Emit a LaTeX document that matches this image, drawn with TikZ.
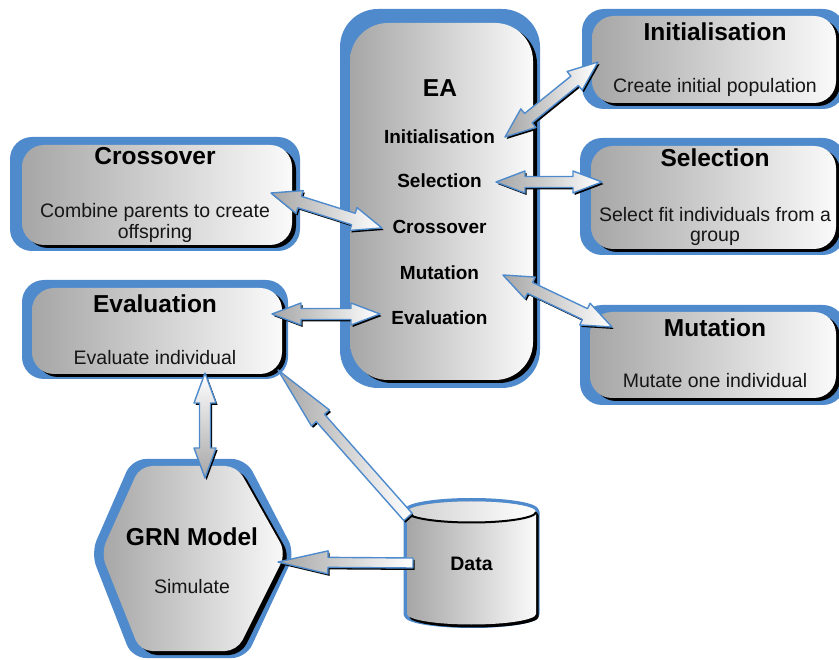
\documentclass[tikz,border=0pt]{standalone}
\usepackage{fontspec}
\setmainfont{Liberation Sans}
\usetikzlibrary{calc,fit}

\definecolor{rimblue}{RGB}{79,139,204}
\definecolor{panelgrey}{RGB}{166,166,166}
\definecolor{bodyink}{RGB}{22,22,22}

\tikzset{
  panel/.style={left color=panelgrey, right color=black!2, draw=none},
  ttl/.style={font=\fontsize{24.5}{28}\selectfont\bfseries, anchor=base, inner sep=0pt},
  txt/.style={font=\fontsize{19.5}{23}\selectfont, anchor=base, inner sep=0pt, text=bodyink},
  item/.style={font=\fontsize{19}{23}\selectfont\bfseries, anchor=base, inner sep=0pt},
  arrowbody/.style={left color=black!35, right color=white, draw=rimblue, line width=1.4pt, line join=round},
  arrowshadow/.style={fill=black, transform canvas={shift={(1.6pt,-2pt)}}},
}

% rounded panel: blue rim, black drop edge, shaded face (named node)
\newcommand\panelbox[6]{%
  \fill[rimblue, rounded corners=#2] #3 rectangle #4;
  \fill[black, rounded corners=#2] ($#5+(4,3)$) rectangle ($#6+(4,3)$);
  \node[panel, rounded corners=#2, fit={#5#6}, inner sep=0pt] (#1) {};
}

% double-headed block arrow between two tips
\newcommand\twowayarrow[6]{%
  \coordinate (hA) at ($(#1)!#3!(#2)$);
  \coordinate (hB) at ($(#2)!#3!(#1)$);
  \def\arrowoutline{(#1) -- ($(hA)!#4!90:(#2)$) -- ($(hA)!#5!90:(#2)$)
    -- ($(hB)!#5!-90:(#1)$) -- ($(hB)!#4!-90:(#1)$) -- (#2)
    -- ($(hB)!#4!90:(#1)$) -- ($(hB)!#5!90:(#1)$)
    -- ($(hA)!#5!-90:(#2)$) -- ($(hA)!#4!-90:(#2)$) -- cycle}%
  \fill[arrowshadow] \arrowoutline;
  \path[arrowbody,#6] \arrowoutline;
}

% single-headed block arrow: tip, flat tail
\newcommand\onewayarrow[6]{%
  \coordinate (hA) at ($(#1)!#3!(#2)$);
  \def\arrowoutline{(#1) -- ($(hA)!#4!90:(#2)$) -- ($(hA)!#5!90:(#2)$)
    -- ($(#2)!#5!-90:(#1)$) -- ($(#2)!#5!90:(#1)$)
    -- ($(hA)!#5!-90:(#2)$) -- ($(hA)!#4!-90:(#2)$) -- cycle}%
  \fill[arrowshadow] \arrowoutline;
  \path[arrowbody,#6] \arrowoutline;
}

\begin{document}
\begin{tikzpicture}[x=1pt,y=-1pt]
\useasboundingbox (0,0) rectangle (839,660);

% ---- panels ----
\panelbox{ea}{38pt}{(340,9)}{(540,388)}{(350,23)}{(533,380)}
\panelbox{init}{22pt}{(582,9)}{(845,109)}{(592,16)}{(836,103)}
\panelbox{sel}{22pt}{(580,138)}{(845,255)}{(591,146)}{(836,249)}
\panelbox{mut}{22pt}{(580,305)}{(845,405)}{(590,312)}{(836,398)}
\panelbox{cross}{22pt}{(10,137)}{(300,251)}{(22,145)}{(292,245)}
\panelbox{eval}{22pt}{(22,280)}{(288,379)}{(32,288)}{(282,374)}

% ---- GRN model hexagon ----
\fill[rimblue, rounded corners=14pt] (91,553) -- (132,459) -- (246,459) -- (295,553) -- (246,658) -- (132,658) -- cycle;
\fill[black, rounded corners=12pt] (106,556) -- (145,469) -- (241,469) -- (290,556) -- (241,655) -- (145,655) -- cycle;
\path[panel, rounded corners=12pt] (101,553) -- (140,466) -- (237,466) -- (286,553) -- (237,651) -- (140,651) -- cycle;

% ---- data cylinder ----
\def\drum{(407,512) -- (407,614) arc[start angle=180,end angle=360,x radius=64.5pt,y radius=10.5pt]
  -- (536,512) arc[start angle=0,end angle=180,x radius=64.5pt,y radius=10.5pt] -- cycle}
\path[fill=rimblue, draw=rimblue, line width=7pt, line join=round] \drum;
\fill[black, transform canvas={shift={(2.5pt,-3pt)}}] \drum;
\path[panel] \drum;
\coordinate (dtop) at (471.5,512);
\path[left color=black!18, right color=white] (dtop) ellipse [x radius=64.5pt, y radius=10.5pt];
\draw[black, line width=2pt] (407,512) arc[start angle=180,end angle=360,x radius=64.5pt,y radius=10.5pt];

% ---- arrow end points ----
\coordinate (eaInitTip) at (505,137);
\coordinate (initTip)   at (598,62);
\coordinate (eaSelTip)  at (496,182);
\coordinate (selTip)    at (602,182);
\coordinate (crossTip)  at (271,193);
\coordinate (eaCrossTip) at (382,228);
\coordinate (evalTip)   at (272,314);
\coordinate (eaEvalTip) at (380,314);
\coordinate (eaMutTip)  at (503,275);
\coordinate (mutTip)    at (612,327);
\coordinate (evalLow)   at (205,373);
\coordinate (grnTop)    at (205,478);
\coordinate (evalCorner) at (278,370);
\coordinate (dataTopLeft) at (408,517);
\coordinate (grnRight)  at (278,562);
\coordinate (dataLeft)  at (413,563);

% ---- connectors ----
\twowayarrow{eaInitTip}{initTip}{30pt}{12pt}{6pt}{}
\twowayarrow{eaSelTip}{selTip}{29pt}{11pt}{5.5pt}{}
\twowayarrow{crossTip}{eaCrossTip}{30pt}{12pt}{6pt}{}
\twowayarrow{evalTip}{eaEvalTip}{29pt}{11pt}{5.5pt}{}
\twowayarrow{eaMutTip}{mutTip}{30pt}{12pt}{6pt}{}
\twowayarrow{evalLow}{grnTop}{30pt}{11pt}{5.5pt}{top color=white, bottom color=black!35}
\onewayarrow{evalCorner}{dataTopLeft}{64pt}{12pt}{5.5pt}{}
\onewayarrow{grnRight}{dataLeft}{50pt}{11.5pt}{5pt}{}

% ---- texts ----
\node[ttl] (eaTitle) at (440,97) {EA};
\node[item] (eaInit)  at (439.5,144) {Initialisation};
\node[item] (eaSel)   at (439.5,188) {Selection};
\node[item] (eaCross) at (439.5,234) {Crossover};
\node[item] (eaMut)   at (439.5,280) {Mutation};
\node[item] (eaEval)  at (439.5,325) {Evaluation};

\node[ttl] (initTitle) at (715,41) {Initialisation};
\node[txt] (initText)  at (715,93) {Create initial population};
\node[ttl] (selTitle)  at (715,167) {Selection};
\node[txt] (selText1)  at (715,221.5) {Select fit individuals from a};
\node[txt] (selText2)  at (715,242) {group};
\node[ttl] (mutTitle)  at (715,337) {Mutation};
\node[txt] (mutText)   at (715,388) {Mutate one individual};

\node[ttl] (crossTitle) at (155,165) {Crossover};
\node[txt] (crossText1) at (155,217.5) {Combine parents to create};
\node[txt] (crossText2) at (155,238.5) {offspring};
\node[ttl] (evalTitle)  at (155,312.5) {Evaluation};
\node[txt] (evalText)   at (155,365) {Evaluate individual};

\node[ttl] (grn)     at (192,546) {GRN Model};
\node[txt] (grnText) at (192,593.5) {Simulate};
\node[item, font=\fontsize{19.5}{23}\selectfont\bfseries] (data) at (471.5,570) {Data};
\end{tikzpicture}
\end{document}
